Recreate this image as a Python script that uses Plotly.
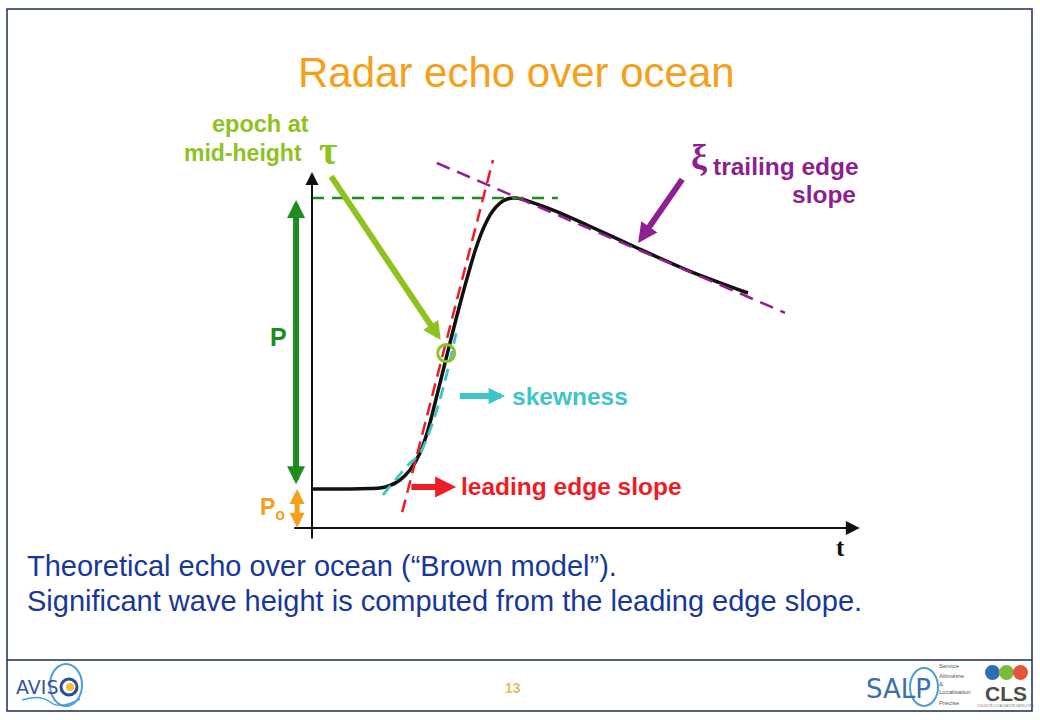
import plotly.graph_objects as go

W, H = 1040, 720

# ---------------- data (time units / power units) ----------------
echo_t = [0.0, 6.9, 10.55, 12.36, 14.18, 16.0, 17.82, 19.64, 21.09, 22.55, 24.0, 25.45,
          26.91, 28.36, 29.82, 31.27, 32.73, 34.18, 35.64, 37.09, 43.82, 50.0, 58.36,
          68.18, 79.27]
echo_p = [11.82, 11.82, 11.97, 12.12, 12.88, 14.55, 17.58, 22.73, 29.70, 39.09, 48.79,
          58.48, 67.88, 76.67, 84.85, 91.21, 95.76, 98.48, 99.76, 100.0, 96.36, 91.82,
          85.45, 78.18, 71.21]

lead_t = [16.4, 32.9]          # leading edge tangent
lead_p = [4.8, 111.5]
skew_t = [12.9, 17.2, 19.6, 22.1, 23.9, 25.4, 26.2]   # skewness curve
skew_p = [10.0, 18.6, 22.6, 32.7, 42.8, 52.9, 59.0]
peak_t = [0.0, 44.7]           # peak level
peak_p = [100.0, 100.0]
trail_t = [22.7, 86.0]         # trailing edge tangent
trail_p = [110.6, 65.2]
epoch_t = [24.4]               # epoch at mid-height
epoch_p = [53.0]

noise_level = 11.8             # P0
peak_level = 100.0             # P0 + P
t_axis = [-3.5, 99.6]
p_axis = [-3.6, 107.9]

# ---------------- scales ----------------
X0PX, Y0PX, SX, SY = 312, 528, 5.5, 3.3
x_range = [-X0PX / SX, (W - X0PX) / SX]
y_range = [-(H - Y0PX) / SY, Y0PX / SY]

ARIAL = "Arial, Liberation Sans, Helvetica, sans-serif"
SERIF = "Times New Roman, Liberation Serif, DejaVu Serif, serif"

ORANGE = "#F5A01A"
LGREEN = "#8DC21F"
DGREEN = "#1E8C1E"
RED = "#EE1C25"
CYAN = "#3FC4C9"
PURPLE = "#8E1F8E"
NAVY = "#1B2A5E"
BLUE = "#17379A"


def PX(x):
    return x / W


def PY(y):
    return 1 - y / H


fig = go.Figure()


def line(t, p, color, width, dash=None, shape="linear"):
    fig.add_trace(go.Scatter(x=t, y=p, mode="lines", hoverinfo="skip",
                             line=dict(color=color, width=width, dash=dash,
                                       shape=shape, smoothing=0.9)))


line(echo_t, echo_p, "#111111", 3.5, shape="spline")
line(peak_t, peak_p, DGREEN, 2.5, dash="12px,8px")
line(lead_t, lead_p, RED, 2.5, dash="13px,7px")
line(skew_t, skew_p, CYAN, 2.8, dash="12px,7px", shape="spline")
line(trail_t, trail_p, PURPLE, 2.5, dash="14px,8px")
fig.add_trace(go.Scatter(x=epoch_t, y=epoch_p, mode="markers", hoverinfo="skip",
                         marker=dict(symbol="circle-open", size=17,
                                     line=dict(color=LGREEN, width=3), color=LGREEN)))

ann = []


def arrow(x, y, ax, ay, color, width, size, both=False, head=2):
    ann.append(dict(x=x, y=y, ax=ax, ay=ay, xref="x", yref="y", axref="x", ayref="y",
                    text="", showarrow=True, arrowhead=head, arrowsize=size,
                    arrowwidth=width, arrowcolor=color, standoff=0, startstandoff=0,
                    arrowside="end+start" if both else "end",
                    startarrowhead=head, startarrowsize=size))


def label(x, y, text, color, size, xanchor="center", family=ARIAL):
    ann.append(dict(x=PX(x), y=PY(y), xref="paper", yref="paper", text=text,
                    showarrow=False, xanchor=xanchor, yanchor="middle",
                    font=dict(family=family, size=size, color=color)))


# axes
arrow(0, p_axis[1], 0, p_axis[0], "#111111", 2, 1.3)
arrow(t_axis[1], 0, t_axis[0], 0, "#111111", 2, 1.4)
# amplitude arrows
arrow(-2.9, peak_level - 0.6, -2.9, noise_level + 1.0, DGREEN, 6, 0.6, both=True)
arrow(-2.7, noise_level, -2.7, -0.4, ORANGE, 5, 0.6, both=True)
# pointers
arrow(epoch_t[0] - 1.0, epoch_p[0] + 4.0, 3.3, 107.0, LGREEN, 6, 0.6)
arrow(59.3, 86.4, 67.5, 106.1, PURPLE, 6, 0.65)
arrow(35.1, 40.0, 26.6, 40.0, CYAN, 6, 0.55)
arrow(26.2, 12.4, 17.8, 12.4, RED, 6, 0.7)

# texts
label(516, 73, "Radar echo over ocean", ORANGE, 42)
label(311, 124, "<b>epoch at</b>", LGREEN, 23.5, xanchor="right")
label(304, 153, "<b>mid-height</b>", LGREEN, 23, xanchor="right")
label(328, 150, "<b>τ</b>", LGREEN, 40, family=SERIF)
label(699, 157, "<b>ξ</b>", PURPLE, 36, family=SERIF)
label(711, 166, "<b>trailing edge</b>", PURPLE, 24.5, xanchor="left")
label(858, 195, "<b>slope</b>", PURPLE, 24.5, xanchor="right")
label(510, 396, "<b>skewness</b>", CYAN, 24.5, xanchor="left")
label(459, 486, "<b>leading edge slope</b>", RED, 24.5, xanchor="left")
label(278, 337, "<b>P</b>", DGREEN, 25)
label(272, 508, "<b>P<sub>o</sub></b>", ORANGE, 23)
label(840, 547, "<b>t</b>", "#111111", 25, family=SERIF)
label(25, 566, "Theoretical echo over ocean (“Brown model”).", BLUE, 29, xanchor="left")
label(25, 601, "Significant wave height is computed from the leading edge slope.", BLUE, 29,
      xanchor="left")
label(513, 688, "<b>13</b>", "#F2B860", 14)

# logos (approximate)
label(37, 687, "AVIS", "#3553A4", 19, family="DejaVu Sans, sans-serif")
label(898, 689, "SALP", "#3B6EB5", 26, family="DejaVu Sans, sans-serif")
for yy, tx in zip([666, 676, 684, 692, 703],
                  ["Service", "Altimétrie", "&", "Localisation", "Précise"]):
    label(937, yy, tx, "#555555", 6, xanchor="left")
label(1006, 693, "<b>CLS</b>", "#4D4D4D", 21)
label(1005, 706, "COLLECTE LOCALISATION SATELLITES", "#777777", 3)

shapes = [
    dict(type="rect", xref="paper", yref="paper", x0=PX(7), x1=PX(1032), y0=PY(711),
         y1=PY(9), line=dict(color=NAVY, width=1.5)),
    dict(type="line", xref="paper", yref="paper", x0=PX(7), x1=PX(1032), y0=PY(660),
         y1=PY(660), line=dict(color=NAVY, width=1.5)),
    # AVISO ring + wave
    dict(type="circle", xref="paper", yref="paper", x0=PX(50), x1=PX(82), y0=PY(706),
         y1=PY(664), line=dict(color="#4B9FD6", width=2)),
    dict(type="circle", xref="paper", yref="paper", x0=PX(61), x1=PX(77), y0=PY(695),
         y1=PY(679), line=dict(color="#2B4C9B", width=3)),
    dict(type="circle", xref="paper", yref="paper", x0=PX(66), x1=PX(74), y0=PY(691),
         y1=PY(683), fillcolor="#F2C230", line=dict(width=0)),
    dict(type="path", xref="paper", yref="paper",
         path=f"M {PX(22)},{PY(700)} Q {PX(40)},{PY(694)} {PX(50)},{PY(702)} T {PX(80)},{PY(699)}",
         line=dict(color="#4B9FD6", width=1.5)),
    # SALP ring
    dict(type="circle", xref="paper", yref="paper", x0=PX(910), x1=PX(938), y0=PY(706),
         y1=PY(668), line=dict(color="#4B9FD6", width=2)),
    # CLS balls
    dict(type="circle", xref="paper", yref="paper", x0=PX(985), x1=PX(1000), y0=PY(680),
         y1=PY(665), fillcolor="#2F6DB5", line=dict(width=0)),
    dict(type="circle", xref="paper", yref="paper", x0=PX(999), x1=PX(1014), y0=PY(680),
         y1=PY(665), fillcolor="#7DBA3C", line=dict(width=0)),
    dict(type="circle", xref="paper", yref="paper", x0=PX(1013), x1=PX(1028), y0=PY(680),
         y1=PY(665), fillcolor="#E2563B", line=dict(width=0)),
]

fig.update_layout(
    width=W, height=H, autosize=False,
    margin=dict(l=0, r=0, t=0, b=0, pad=0),
    paper_bgcolor="white", plot_bgcolor="white",
    showlegend=False,
    xaxis=dict(range=x_range, visible=False, fixedrange=True),
    yaxis=dict(range=y_range, visible=False, fixedrange=True),
    annotations=ann, shapes=shapes,
)

fig.write_html("out.html", config={"displayModeBar": False},
               post_script="document.body.style.margin='0';document.body.style.overflow='hidden';")
